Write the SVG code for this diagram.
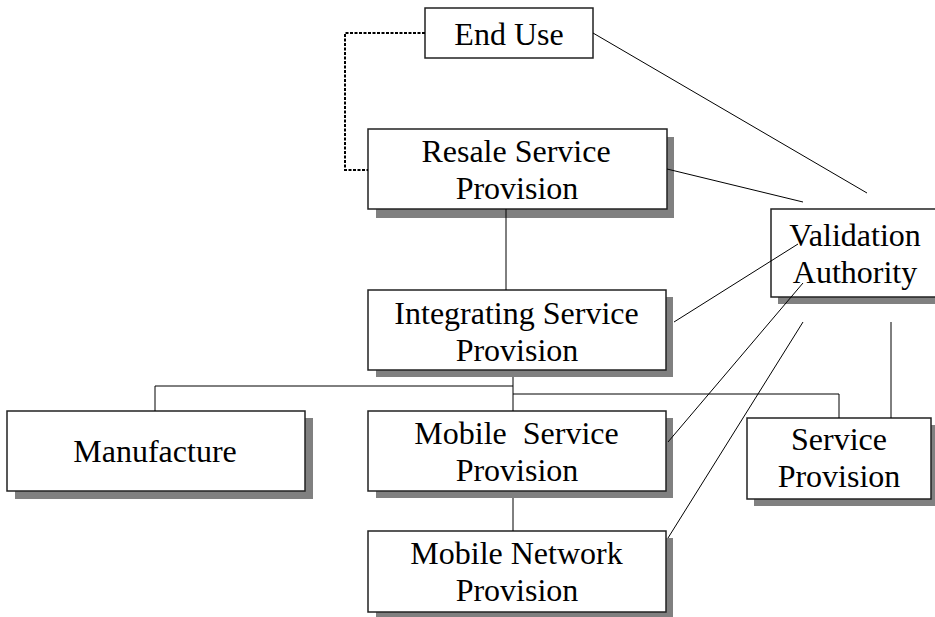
<svg xmlns="http://www.w3.org/2000/svg" width="935" height="617" viewBox="0 0 935 617">
<style>
.box{fill:#fff;stroke:#222;stroke-width:1.5}
.sh{fill:#808080}
.t{font-family:"Liberation Serif","Times New Roman",serif;font-size:32px;fill:#000;text-anchor:middle}
.c{fill:none;stroke:#000;stroke-width:1}
.d{fill:none;stroke:#000;stroke-width:2;stroke-dasharray:3 1.5}
</style>
<rect width="935" height="617" fill="#fff"/>
<g id="end-use">
<rect class="box" x="425" y="8" width="168" height="50" stroke="#555"/>
<text class="t" x="509" y="45">End Use</text>
</g>
<g id="resale">
<rect class="sh" x="376" y="137" width="298" height="81"/>
<rect class="box" x="368" y="129" width="299" height="80"/>
<text class="t" x="516" y="162">Resale Service</text>
<text class="t" x="517" y="199">Provision</text>
</g>
<g id="validation">
<rect class="sh" x="778" y="217" width="170" height="87"/>
<rect class="box" x="771" y="209" width="170" height="88"/>
<text class="t" x="855" y="246">Validation</text>
<text class="t" x="855" y="283">Authority</text>
</g>
<g id="integrating">
<rect class="sh" x="376" y="297" width="297" height="80"/>
<rect class="box" x="368" y="290" width="298" height="80"/>
<text class="t" x="516.5" y="324">Integrating Service</text>
<text class="t" x="517" y="361">Provision</text>
</g>
<g id="manufacture">
<rect class="sh" x="15" y="418" width="298" height="81"/>
<rect class="box" x="7" y="411" width="298" height="80"/>
<text class="t" x="155" y="462">Manufacture</text>
</g>
<g id="mobile-service">
<rect class="sh" x="376" y="418" width="297" height="80"/>
<rect class="box" x="368" y="411" width="298" height="80"/>
<text class="t" x="516.5" y="444" xml:space="preserve">Mobile  Service</text>
<text class="t" x="517" y="481">Provision</text>
</g>
<g id="mobile-network">
<rect class="sh" x="376" y="538" width="297" height="81"/>
<rect class="box" x="368" y="531" width="298" height="81"/>
<text class="t" x="516.5" y="564">Mobile Network</text>
<text class="t" x="517" y="601">Provision</text>
</g>
<g id="service-provision">
<rect class="sh" x="754" y="425" width="181" height="81"/>
<rect class="box" x="747" y="418" width="184" height="81"/>
<text class="t" x="839" y="450">Service</text>
<text class="t" x="839" y="487">Provision</text>
</g>
<g id="connectors">
<polyline class="d" points="425,33 345,33 345,170 368,170"/>
<line class="c" x1="593" y1="33" x2="867" y2="193"/>
<line class="c" x1="667" y1="169" x2="803" y2="202"/>
<line class="c" x1="674" y1="322" x2="798" y2="244"/>
<line class="c" x1="668" y1="442" x2="803" y2="283"/>
<line class="c" x1="668" y1="538" x2="803" y2="322"/>
<line class="c" x1="891" y1="322" x2="891" y2="418" stroke="#666"/>
<line class="c" x1="506" y1="209" x2="506" y2="290"/>
<polyline class="c" points="513,377 513,411"/>
<polyline class="c" points="513,386 155,386 155,411"/>
<polyline class="c" points="513,394 839,394 839,418"/>
<line class="c" x1="513" y1="498" x2="513" y2="531"/>
</g>
</svg>
